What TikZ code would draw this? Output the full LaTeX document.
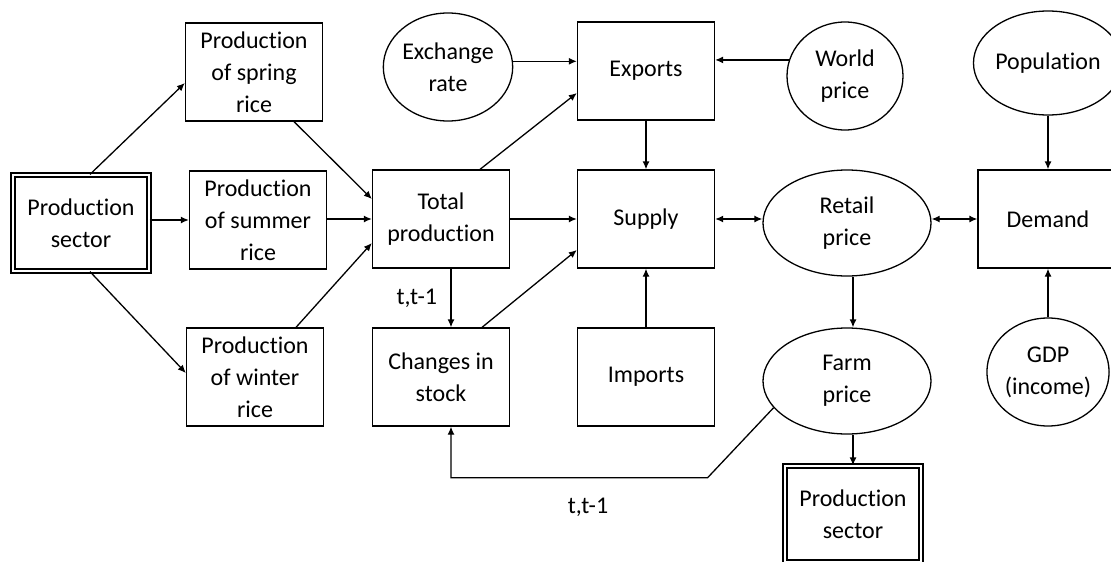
\documentclass[tikz,border=0pt]{standalone}
\usepackage{fontspec}
\setmainfont{Carlito}[Ligatures=NoCommon]
\usetikzlibrary{arrows.meta,shapes.geometric,calc}

\begin{document}
\begin{tikzpicture}[x=1pt,y=-1pt,line width=1.3pt,>={Latex[length=8pt,width=7pt]},
  every node/.style={font=\fontsize{24}{32}\selectfont,align=center},
  box/.style={draw,rectangle,minimum width=137pt,minimum height=98pt,inner sep=0pt},
  dbox/.style={box,double,double distance=2.5pt,minimum width=136pt,minimum height=96pt},
  oval/.style={draw,ellipse,minimum width=168pt,minimum height=106pt,inner sep=0pt},
  circ/.style={draw,ellipse,minimum width=116pt,minimum height=108pt,inner sep=0pt}]
\useasboundingbox (0,0) rectangle (1111,562);
% The production side
\node[dbox] (prodL) at (81,223) {Production\\sector};
\node[box] (spring) at (254,72) {Production\\of spring\\rice};
\node[box] (summer) at (258,220) {Production\\of summer\\rice};
\node[box] (winter) at (255,377) {Production\\of winter\\rice};
\node[box] (total) at (441,219) {Total\\production};
\node[box] (stock) at (441,377) {Changes in\\stock};
% The market
\node[circ] (exrate) at (448,67) {Exchange\\rate};
\node[box] (exports) at (646,71) {Exports};
\node[circ] (world) at (845,76) {World\\price};
\node[box] (supply) at (646,219) {Supply};
\node[box] (imports) at (646,377) {Imports};
\node[oval] (retail) at (847,223) {Retail\\price};
\node[oval] (farm) at (847,381) {Farm\\price};
\node[dbox] (prodB) at (853,514) {Production\\sector};
\node[box,minimum width=140pt] (demand) at (1048,219) {Demand};
\node[circ,minimum width=108pt,minimum height=104pt] (popul) at (1048,63) {Population};
\node[circ] (gdp) at (1048,372) {GDP\\(income)};
% The arrows
\draw[->] ($(prodL.north)+(9,0)$) -- ($(spring.west)+(0,11)$);
\draw[->] (prodL.east |- summer.west) -- (summer.west);
\draw[->] ($(prodL.south)+(9,0)$) -- ($(winter.west)+(0,-4)$);
\draw[->] ($(spring.south)+(40,0)$) -- ($(total.west)+(0,-20)$);
\draw[->] (summer.east |- total.west) -- (total.west);
\draw[->] ($(winter.north)+(41,0)$) -- ($(total.west)+(0,24)$);
\draw[->] ($(total.north)+(39,0)$) -- ($(exports.west)+(0,22)$);
\draw[->] (exrate.5) -- (exrate.5 -| exports.west);
\draw[->] (world.164) -- (world.164 -| exports.east);
\draw[->] (exports) -- (supply);
\draw[->] (total) -- (supply);
\draw[->] ($(stock.north)+(41,0)$) -- ($(supply.west)+(0,31)$);
\draw[->] ($(total.south)+(10,0)$) -- ($(stock.north)+(10,0)$) node[midway,left=10pt] (lag1) {t,t-1};
\draw[->] (imports) -- (supply);
\draw[<->] (supply.east) -- (supply.east -| retail.west);
\draw[<->] (retail.east |- demand.west) -- (demand.west);
\draw[->] (popul) -- (demand);
\draw[->] (gdp) -- (demand);
\draw[->] ($(retail.south)+(6,0)$) -- ($(farm.north)+(6,0)$);
\draw[->] ($(farm.south)+(6,0)$) -- (prodB.north);
% The feedback to stock
\draw[->] (farm.200) -- ++(-66,70) -| ($(stock.south)+(10,0)$);
\node (lag2) at (588,507) {t,t-1};
\end{tikzpicture}
\end{document}
